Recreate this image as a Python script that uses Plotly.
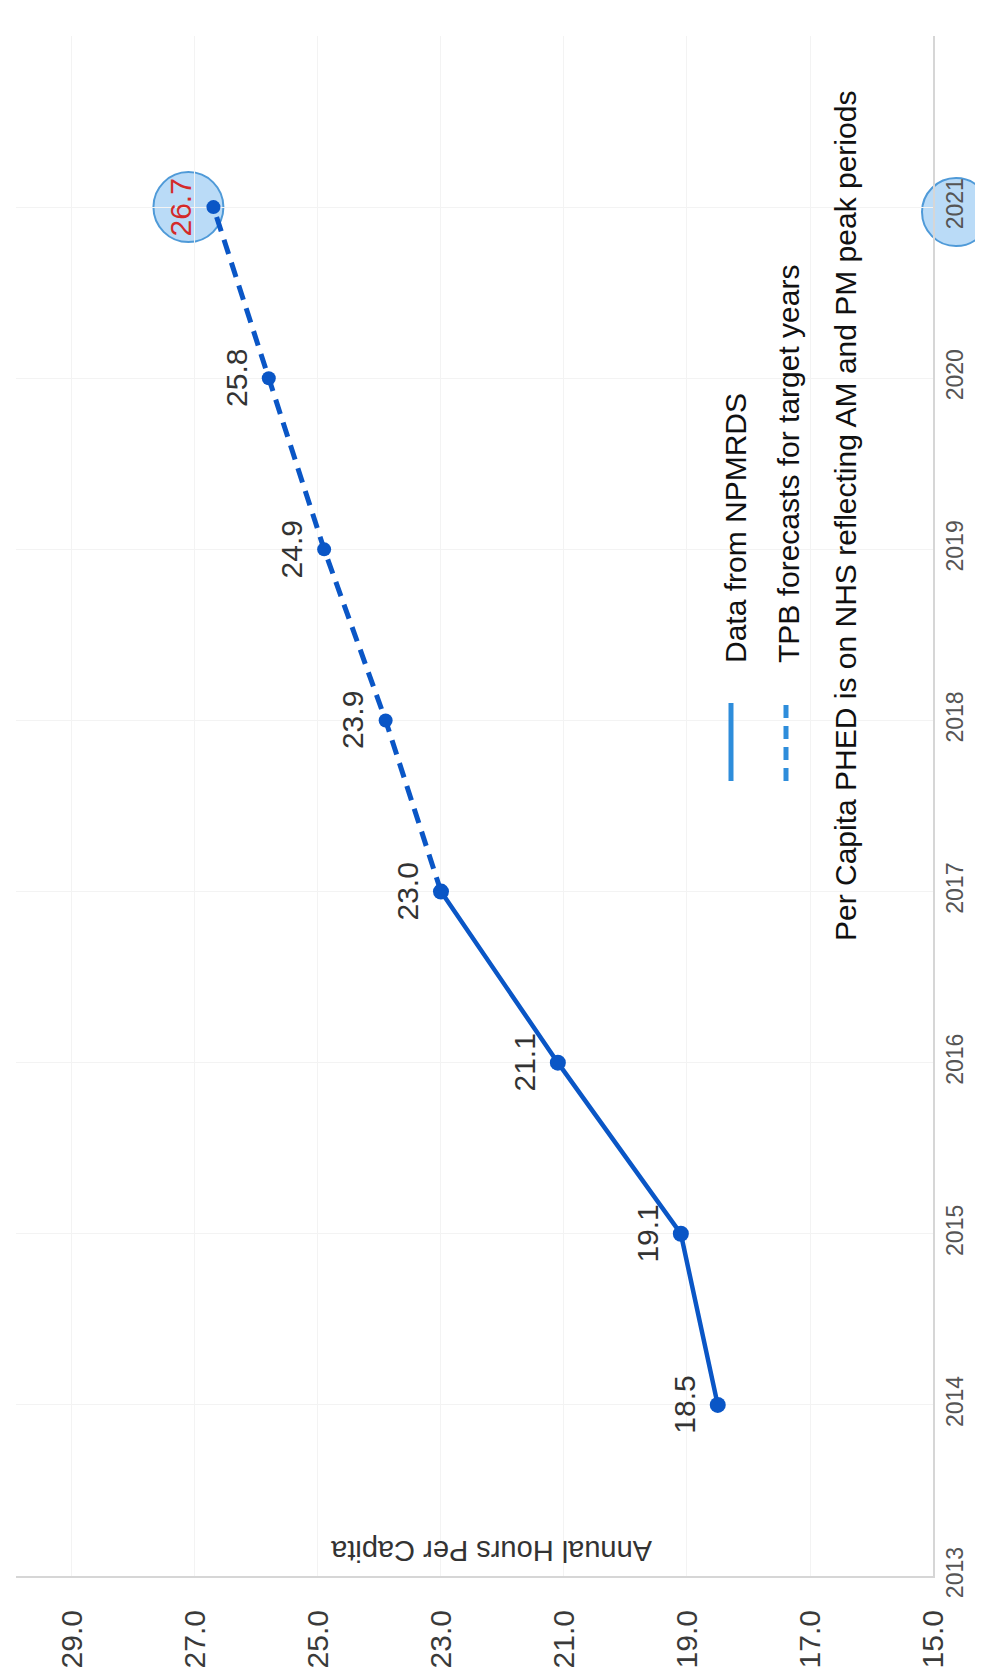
import plotly.graph_objects as go

# ---- data ----
years_actual = [2014, 2015, 2016, 2017]
hours_actual = [18.5, 19.1, 21.1, 23.0]
years_forecast = [2017, 2018, 2019, 2020, 2021]
hours_forecast = [23.0, 23.9, 24.9, 25.8, 26.7]
label_years = [2014, 2015, 2016, 2017, 2018, 2019, 2020, 2021]
label_hours = [18.5, 19.1, 21.1, 23.0, 23.9, 24.9, 25.8, 26.7]
hours_ticks = [15, 17, 19, 21, 23, 25, 27, 29]
year_ticks = [2013, 2014, 2015, 2016, 2017, 2018, 2019, 2020, 2021, 2022]
legend_labels = ["Data from NPMRDS", "TPB forecasts for target years"]
note_text = "Per Capita PHED is on NHS reflecting AM and PM peak periods"
axis_title = "Annual Hours Per Capita"

W, H = 983, 1675
L, R, T, B = 8, 925, 28, 1568
FONT = "Liberation Sans, Arial, sans-serif"
LINE_C = "#0a56c6"
LEG_C = "#2e8ddb"


def px_x(p):
    return (p - L) / (R - L)


def px_y(p):
    return (B - p) / (B - T)


fig = go.Figure()
fig.add_trace(go.Scatter(
    x=hours_actual, y=years_actual, mode="lines+markers",
    line=dict(color=LINE_C, width=4.5),
    marker=dict(color=LINE_C, size=16),
    hoverinfo="skip", name=legend_labels[0]))
fig.add_trace(go.Scatter(
    x=hours_forecast, y=years_forecast, mode="lines+markers",
    line=dict(color=LINE_C, width=5, dash="15px,9px"),
    marker=dict(color=LINE_C, size=14),
    hoverinfo="skip", name=legend_labels[1]))

annotations = []
for yv, hv in zip(label_years, label_hours):
    is_last = yv == label_years[-1]
    annotations.append(dict(
        x=hv, y=yv, xref="x", yref="y", text=f"{hv:.1f}", showarrow=False,
        textangle=-90, xanchor="center", yanchor="middle", xshift=-33,
        font=dict(family=FONT, size=30, color="#d42a2a" if is_last else "#333333")))

# axis title (upside down in the rotated scan)
annotations.append(dict(
    x=px_x(483), y=px_y(1543), xref="paper", yref="paper", text=axis_title,
    showarrow=False, textangle=180, xanchor="center", yanchor="middle",
    font=dict(family=FONT, size=29, color="#333333")))

# legend texts and note
for txt, cx, by in [(legend_labels[0], 727, 657), (legend_labels[1], 780, 657),
                    (note_text, 838, 935)]:
    annotations.append(dict(
        x=px_x(cx), y=px_y(by), xref="paper", yref="paper", text=txt,
        showarrow=False, textangle=-90, xanchor="center", yanchor="bottom",
        font=dict(family=FONT, size=30, color="#111111")))

shapes = [
    # legend samples
    dict(type="line", xref="paper", yref="paper", x0=px_x(723), x1=px_x(723),
         y0=px_y(773), y1=px_y(695), line=dict(color=LEG_C, width=5)),
    dict(type="line", xref="paper", yref="paper", x0=px_x(778), x1=px_x(778),
         y0=px_y(773), y1=px_y(695), line=dict(color=LEG_C, width=5, dash="13px,8px")),
    # highlight circle around last value label
    dict(type="circle", xref="x", yref="y", xsizemode="pixel", ysizemode="pixel",
         xanchor=label_hours[-1], yanchor=label_years[-1],
         x0=-60, x1=10, y0=-35, y1=35, layer="below",
         fillcolor="rgba(130,190,240,0.55)", line=dict(color="#4f9ad8", width=2)),
    # highlight circle around 2021 tick
    dict(type="circle", xref="paper", yref="y", xsizemode="pixel", ysizemode="pixel",
         xanchor=1, yanchor=label_years[-1],
         x0=-11, x1=57, y0=-39, y1=29, layer="below",
         fillcolor="rgba(130,190,240,0.55)", line=dict(color="#4f9ad8", width=2)),
]

fig.update_layout(
    width=W, height=H,
    margin=dict(l=L, r=W - R, t=T, b=H - B, pad=0),
    paper_bgcolor="white", plot_bgcolor="rgba(0,0,0,0)",
    showlegend=False,
    annotations=annotations, shapes=shapes,
    xaxis=dict(range=[29.91, 15], tickvals=hours_ticks,
               ticktext=[f"{v:.1f}" for v in hours_ticks],
               tickangle=-90, ticks="", ticklabelstandoff=20,
               tickfont=dict(family=FONT, size=30, color="#3a3a3a"),
               showline=True, linecolor="#d6d6d6", linewidth=2,
               showgrid=True, gridcolor="#f3f3f3", zeroline=False,
               automargin=False),
    yaxis=dict(range=[2013, 2022], side="right", tickvals=year_ticks,
               tickangle=-90, ticks="", ticklabelstandoff=0,
               tickfont=dict(family=FONT, size=23, color="#555555"),
               showline=True, linecolor="#d6d6d6", linewidth=2,
               showgrid=True, gridcolor="#f3f3f3", zeroline=False,
               automargin=False),
)

fig.write_html("out.html")
